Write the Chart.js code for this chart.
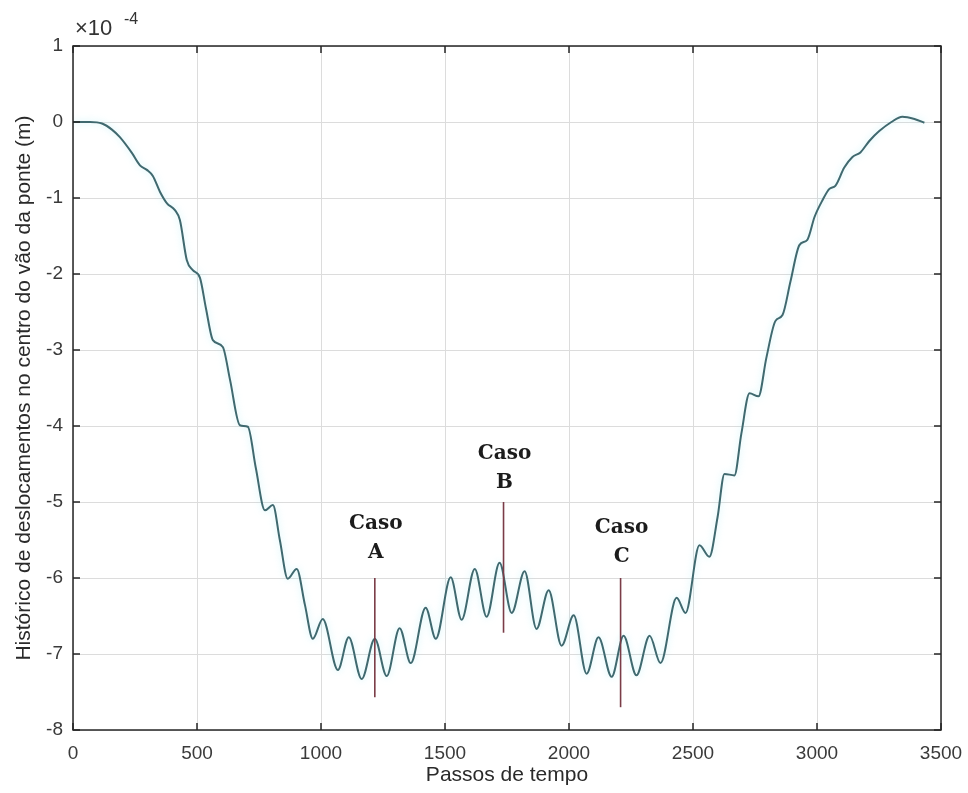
<!DOCTYPE html>
<html>
<head>
<meta charset="utf-8">
<script src="https://cdn.jsdelivr.net/npm/chart.js@4.4.1/dist/chart.umd.min.js"></script>
<style>
  html, body { margin: 0; padding: 0; background: #fff; }
</style>
</head>
<body>
<canvas id="chart" width="968" height="793"></canvas>
<script>
// time step and mid-span displacement (x 1e-4 m)
const steps = [0, 68, 117, 157, 189, 238, 270, 298, 322, 351, 379, 411, 431, 459, 483, 512,
  536, 564, 604, 633, 673, 705, 737, 774, 806, 834, 866, 902, 935, 967, 1007, 1068, 1112,
  1164, 1217, 1265, 1317, 1362, 1422, 1463, 1523, 1567, 1620, 1668, 1720, 1769, 1821, 1869,
  1918, 1970, 2019, 2071, 2119, 2172, 2220, 2272, 2325, 2369, 2434, 2470, 2526, 2566, 2599,
  2627, 2667, 2695, 2728, 2764, 2796, 2832, 2861, 2893, 2929, 2961, 2990, 3022, 3050, 3074,
  3110, 3143, 3175, 3211, 3251, 3300, 3344, 3393, 3433];
const disp = [0, 0, -0.02, -0.10, -0.20, -0.41, -0.57, -0.63, -0.71, -0.92, -1.07, -1.16, -1.29, -1.82, -1.95, -2.05,
  -2.45, -2.87, -2.96, -3.39, -3.99, -4.01, -4.55, -5.11, -5.04, -5.50, -6.01, -5.88, -6.35, -6.80, -6.54, -7.21, -6.78,
  -7.33, -6.80, -7.29, -6.66, -7.12, -6.39, -6.80, -5.99, -6.55, -5.88, -6.51, -5.80, -6.46, -5.91, -6.67,
  -6.16, -6.89, -6.49, -7.26, -6.78, -7.30, -6.76, -7.28, -6.76, -7.12, -6.26, -6.46, -5.57, -5.72, -5.20,
  -4.63, -4.65, -4.10, -3.57, -3.61, -3.10, -2.62, -2.54, -2.10, -1.62, -1.55, -1.25, -1.03, -0.88, -0.84,
  -0.60, -0.46, -0.40, -0.25, -0.12, 0.00, 0.07, 0.04, -0.01];

const xTicks = [0, 500, 1000, 1500, 2000, 2500, 3000, 3500];
const yTicks = [1, 0, -1, -2, -3, -4, -5, -6, -7, -8];

// marked cases: step, top and bottom of the marker, level of the letter
const caseNames = ["A", "B", "C"];
const caseSteps = [1217, 1736, 2208];
const caseTop = [-6.0, -5.0, -6.0];
const caseBottom = [-7.57, -6.72, -7.70];
const caseTextLevel = [-5.67, -4.75, -5.72];

const tickFont = { family: "'Liberation Sans', Arial, sans-serif", size: 19 };
const titleFont = { family: "'Liberation Sans', Arial, sans-serif", size: 21 };

// faint glow round the curve, as in the original bitmap
const glow = {
  id: "glow",
  beforeDatasetDraw(chart) {
    chart.ctx.save();
    chart.ctx.shadowColor = "rgba(160, 235, 245, 0.6)";
    chart.ctx.shadowBlur = 7;
  },
  afterDatasetDraw(chart) {
    chart.ctx.restore();
  }
};

const frame = {
  id: "frame",
  afterDatasetsDraw(chart) {
    const { ctx, chartArea: a, scales: { x, y } } = chart;
    ctx.save();

    // case markers and labels
    caseNames.forEach((name, i) => {
      const px = x.getPixelForValue(caseSteps[i]);
      ctx.strokeStyle = "#7a3c47";
      ctx.lineWidth = 1.6;
      ctx.beginPath();
      ctx.moveTo(px, y.getPixelForValue(caseTop[i]));
      ctx.lineTo(px, y.getPixelForValue(caseBottom[i]));
      ctx.stroke();
      const ly = y.getPixelForValue(caseTextLevel[i]);
      ctx.fillStyle = "#1c1c1c";
      ctx.font = "bold 20px 'DejaVu Serif', serif";
      ctx.textAlign = "center";
      ctx.textBaseline = "middle";
      ctx.fillText("Caso", px + 1, ly - 29);
      ctx.fillText(name, px + 1, ly);
    });

    // box with inward ticks
    ctx.strokeStyle = "#262626";
    ctx.lineWidth = 1.5;
    ctx.strokeRect(a.left, a.top, a.right - a.left, a.bottom - a.top);
    ctx.beginPath();
    xTicks.forEach(v => {
      const px = x.getPixelForValue(v);
      ctx.moveTo(px, a.bottom); ctx.lineTo(px, a.bottom - 7);
      ctx.moveTo(px, a.top); ctx.lineTo(px, a.top + 7);
    });
    yTicks.forEach(v => {
      const py = y.getPixelForValue(v);
      ctx.moveTo(a.left, py); ctx.lineTo(a.left + 7, py);
      ctx.moveTo(a.right, py); ctx.lineTo(a.right - 7, py);
    });
    ctx.stroke();

    // exponent
    ctx.fillStyle = "#333";
    ctx.textAlign = "left";
    ctx.textBaseline = "middle";
    ctx.font = "22px 'Liberation Sans', Arial, sans-serif";
    ctx.fillText("\u00d710", a.left + 2, 29);
    ctx.font = "16px 'Liberation Sans', Arial, sans-serif";
    ctx.fillText("-4", a.left + 51, 20);
    ctx.restore();
  }
};

new Chart(document.getElementById("chart"), {
  type: "line",
  data: {
    datasets: [{
      data: steps.map((s, i) => ({ x: s, y: disp[i] })),
      borderColor: "#40696f",
      borderWidth: 2,
      pointRadius: 0,
      cubicInterpolationMode: "monotone",
      fill: false
    }]
  },
  options: {
    responsive: false,
    animation: false,
    devicePixelRatio: 1,
    layout: { padding: { top: 46, right: 27, left: 0, bottom: 0 } },
    plugins: { legend: { display: false }, tooltip: { enabled: false } },
    scales: {
      x: {
        type: "linear",
        min: 0,
        max: 3500,
        afterFit: s => { s.height = 63; s.paddingLeft = 0; s.paddingRight = 0; },
        afterBuildTicks: s => { s.ticks = xTicks.map(v => ({ value: v })); },
        ticks: { callback: v => String(v), font: tickFont, color: "#3a3a3a", padding: 12, maxRotation: 0 },
        grid: { color: "#dcdcdc", lineWidth: 1, drawTicks: false },
        border: { display: false },
        title: { display: true, text: "Passos de tempo", font: titleFont, color: "#2a2a2a", padding: { top: 0, bottom: 5 } }
      },
      y: {
        min: -8,
        max: 1,
        afterFit: s => { s.width = 73; s.paddingTop = 0; s.paddingBottom = 0; },
        afterBuildTicks: s => { s.ticks = yTicks.map(v => ({ value: v })); },
        ticks: { callback: v => String(v), font: tickFont, color: "#3a3a3a", padding: 10 },
        grid: { color: "#dcdcdc", lineWidth: 1, drawTicks: false },
        border: { display: false },
        title: { display: true, text: "Histórico de deslocamentos no centro do vão da ponte (m)", font: titleFont, color: "#2a2a2a", padding: { top: 12, bottom: 0 } }
      }
    }
  },
  plugins: [glow, frame]
});
</script>
</body>
</html>
